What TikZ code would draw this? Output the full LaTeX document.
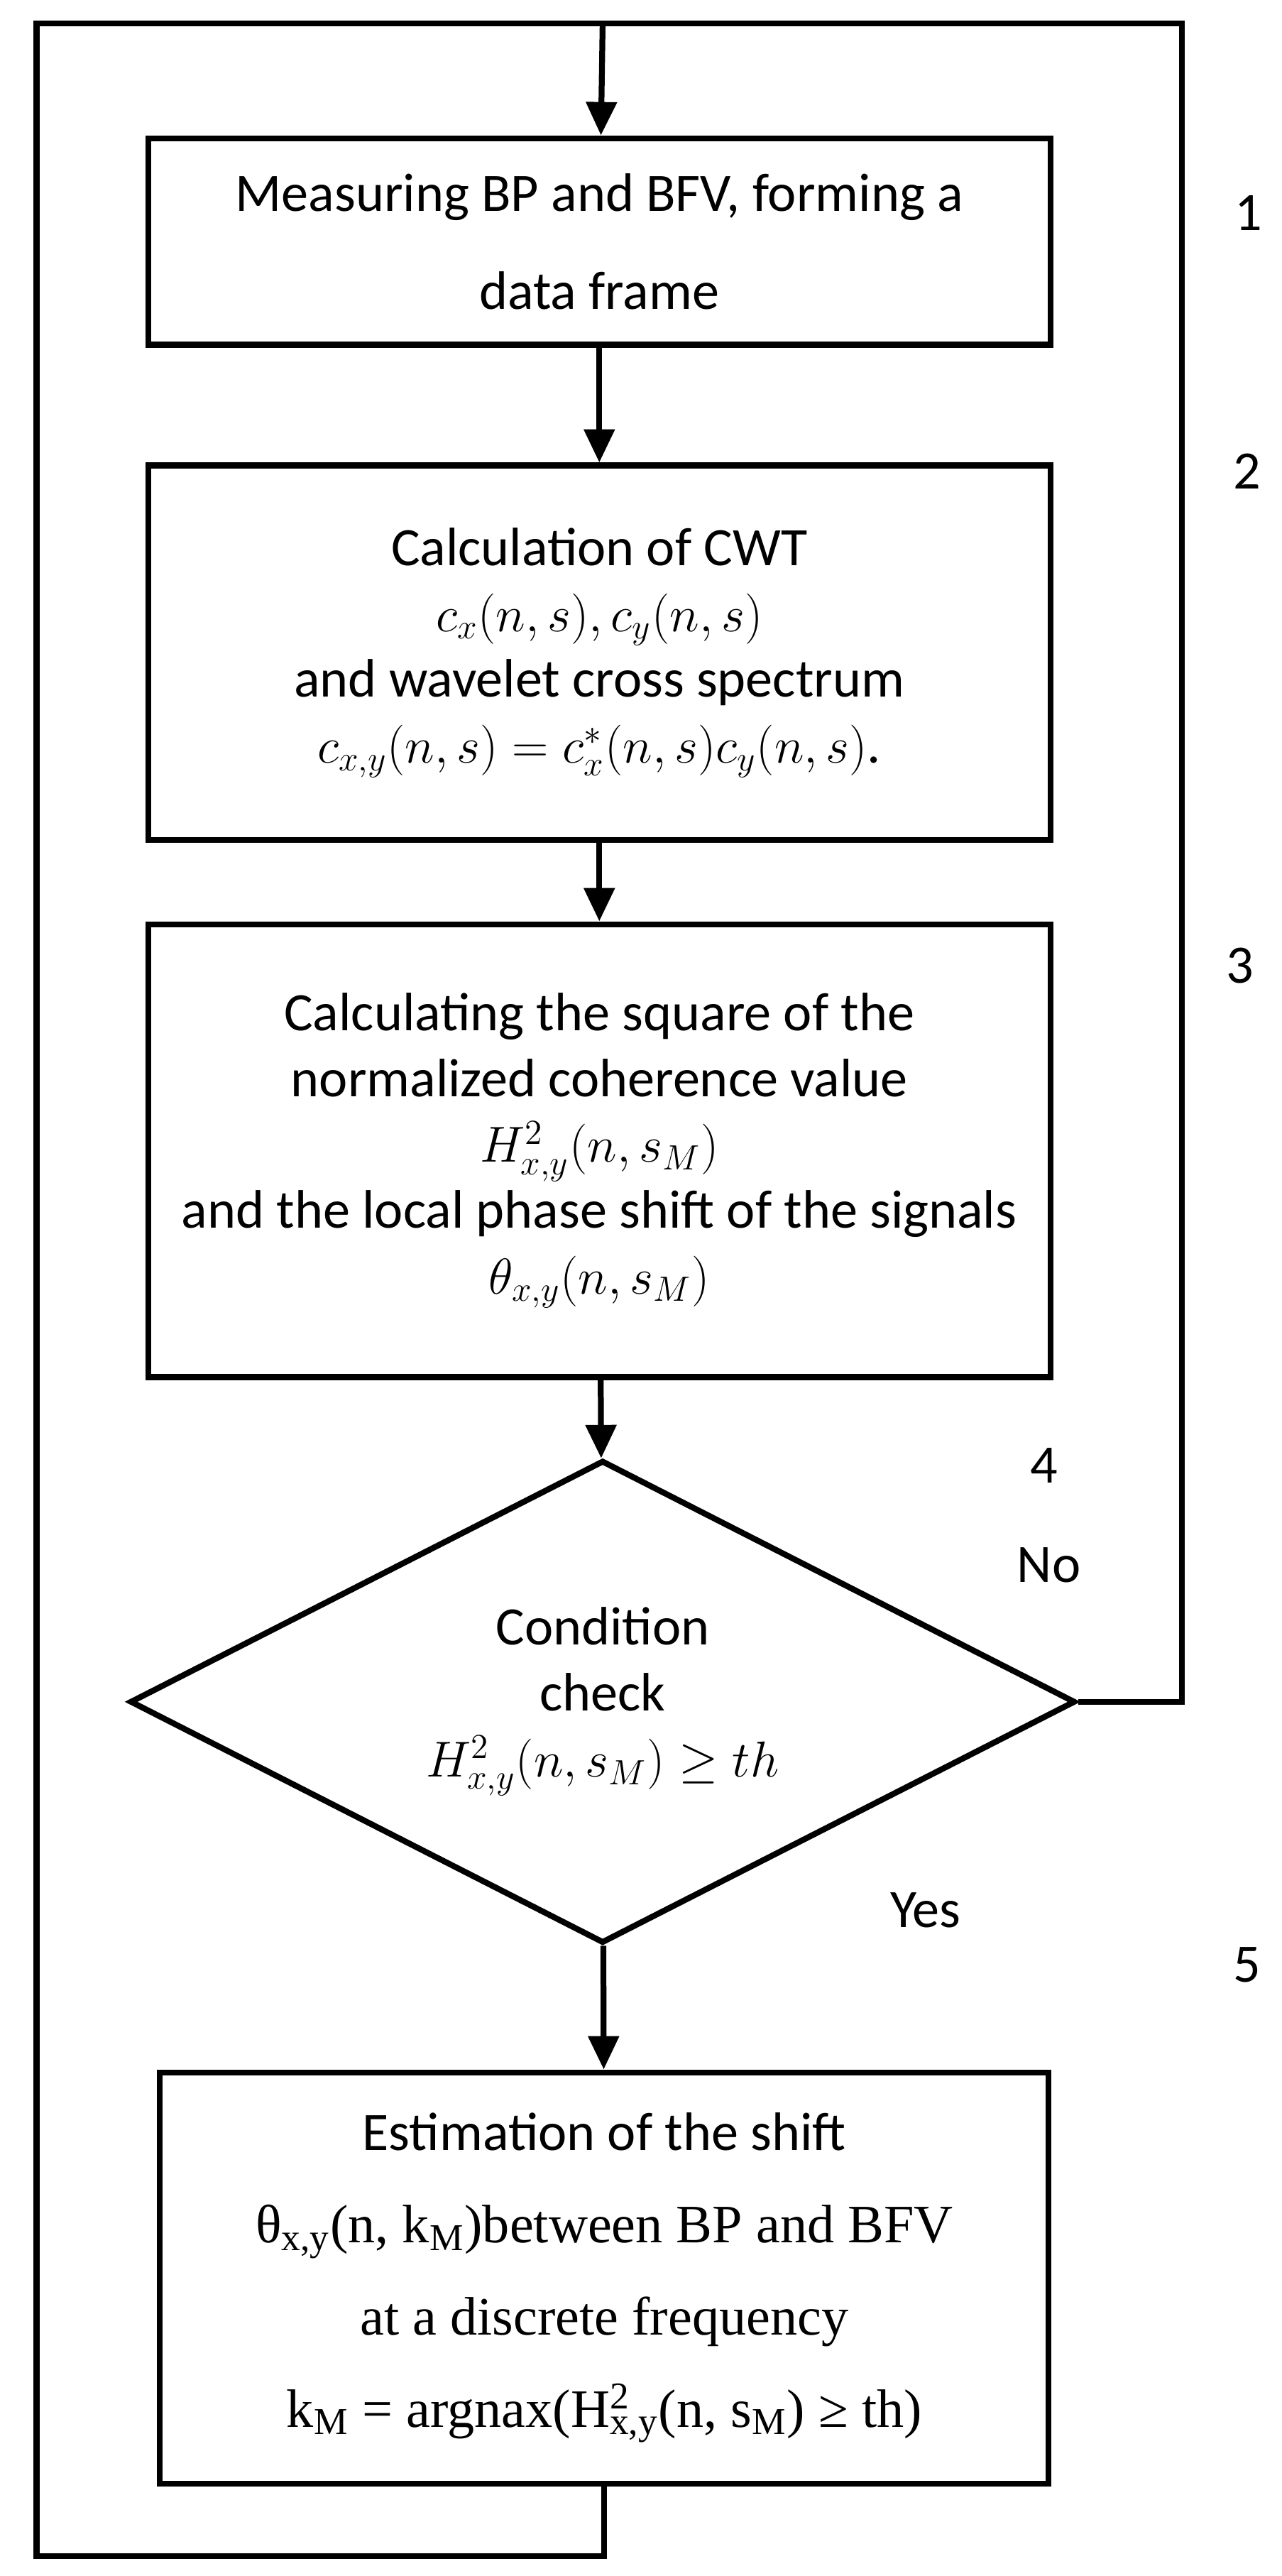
\documentclass[tikz,border=0pt]{standalone}
\usepackage{fontspec}
\setmainfont{Carlito}
\newfontfamily\serif{Liberation Serif}
\usetikzlibrary{arrows.meta,shapes.geometric}

% superscript stacked over subscript in text mode
\newcommand{\supsub}[2]{\makebox[0pt][l]{\textsuperscript{#1}}\textsubscript{#2}}

\begin{document}
\begin{tikzpicture}[x=0.02cm, y=-0.02cm,
	box/.style={draw, line width=2pt, align=center, minimum width=10.84cm, font=\fontsize{18.5}{22.5}\selectfont},
	arr/.style={line width=2pt, -{Triangle[length=4mm, width=3.6mm]}},
	line/.style={line width=2pt},
	num/.style={font=\fontsize{18.5}{22.5}\selectfont}]
	\useasboundingbox (0,0) rectangle (770,1547);

	% the steps
	\node[box, minimum height=2.48cm] (b1) at (360,145) {Measuring BP and BFV, forming a\\[11pt] data frame};
	\node[box, minimum height=4.5cm] (b2) at (360,392) {Calculation of CWT\\ $c_x(n,s), c_y(n,s)$\\ and wavelet cross spectrum\\ $c_{x,y}(n,s) = c_x^*(n,s)c_y(n,s)$.};
	\node[box, minimum height=5.44cm] (b3) at (360,691) {Calculating the square of the\\ normalized coherence value\\ $H^2_{x,y}(n,s_M)$\\ and the local phase shift of the signals\\ $\theta_{x,y}(n,s_M)$};
	\node[draw, diamond, line width=2pt, aspect=1.96, inner sep=0pt, minimum width=11.36cm, minimum height=5.8cm, align=center, font=\fontsize{18.5}{22.5}\selectfont] (cond) at (362,1022) {Condition\\ check\\ $H^2_{x,y}(n,s_M) \geq th$};
	\node[box, minimum width=10.68cm, minimum height=4.94cm] (b5) at (363,1368) {Estimation of the shift\\[9pt]
		{\serif θ\textsubscript{x,y}(n, k\textsubscript{M})between BP and BFV}\\[9pt]
		{\serif at a discrete frequency}\\[9pt]
		{\serif k\textsubscript{M} = argnax(H\supsub{2}{x,y}(n, s\textsubscript{M}) ≥ th)}};

	% step numbers and answers
	\node[num] (n1) at (750,128) {1};
	\node[num] (n2) at (749,283) {2};
	\node[num] (n3) at (745,580) {3};
	\node[num] (n4) at (627,880) {4};
	\node[num] (no) at (630,940) {No};
	\node[num] (yes) at (556,1147) {Yes};
	\node[num] (n5) at (749,1180) {5};

	% corners of the loop
	\coordinate (tm) at (362,14);
	\coordinate (tl) at (22,14);
	\coordinate (bl) at (22,1535);
	\coordinate (tr) at (710,14);

	% Draw the arrows between the steps
	\draw[arr] (tm) -- (b1);
	\draw[arr] (b1) -- (b2);
	\draw[arr] (b2) -- (b3);
	\draw[arr] (b3) -- (cond);
	\draw[arr] (cond) -- (b5);
	\draw[line] (b5.south) |- (bl) -- (tl) -- (tm);
	\draw[line] (cond.east) -| (tr) -- (tm);
\end{tikzpicture}
\end{document}
